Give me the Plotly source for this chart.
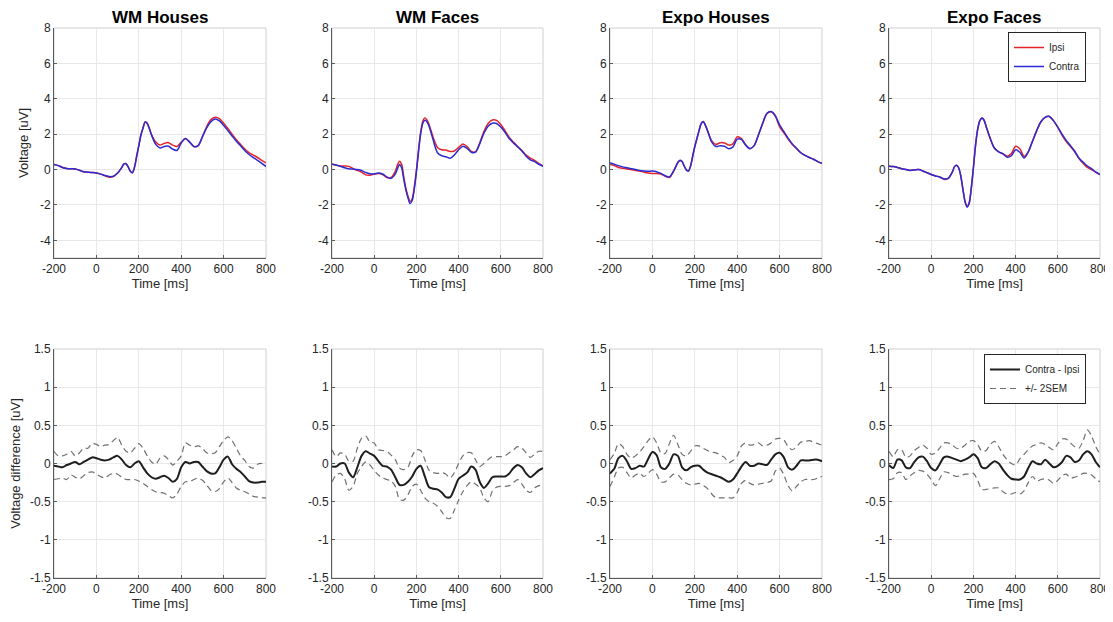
import plotly.graph_objects as go

# ---------------- data ----------------
t_top = [-200, -180, -160, -140, -120, -100, -80, -60, -40, -20, 0, 20, 40, 60, 80, 100,
         110, 120, 130, 140, 150, 160, 170, 180, 190, 200, 210, 220, 230, 240, 250, 260,
         280, 300, 320, 340, 360, 380, 400, 420, 440, 460, 480, 500, 520, 540, 560, 580,
         600, 620, 640, 660, 680, 700, 720, 740, 760, 780, 800]

t_diff = [-200, -180, -160, -140, -120, -100, -80, -60, -40, -20,
          0, 20, 40, 60, 80, 100, 120, 140, 160, 180,
          200, 220, 240, 260, 280, 300, 320, 340, 360, 380,
          400, 420, 440, 460, 480, 500, 520, 540, 560, 580,
          600, 620, 640, 660, 680, 700, 720, 740, 760, 780, 800]

panel_titles = ["WM Houses", "WM Faces", "Expo Houses", "Expo Faces"]

# WM Houses
wm_houses_contra = [0.28, 0.22, 0.12, 0.06, 0.04, 0.03, -0.04, -0.13, -0.15, -0.17, -0.20, -0.26, -0.33, -0.40, -0.38, -0.20,
                    -0.05, 0.12, 0.32, 0.33, 0.15, -0.10, -0.18, 0.15, 0.75, 1.35, 1.95, 2.35, 2.68, 2.60, 2.30, 1.95,
                    1.42, 1.22, 1.30, 1.32, 1.15, 1.08, 1.50, 1.75, 1.55, 1.30, 1.35, 1.85, 2.35, 2.70, 2.85, 2.75,
                    2.50, 2.20, 1.90, 1.60, 1.35, 1.08, 0.85, 0.68, 0.52, 0.35, 0.17]
wm_houses_ipsi = [0.28, 0.22, 0.12, 0.06, 0.04, 0.03, -0.04, -0.13, -0.15, -0.17, -0.20, -0.26, -0.36, -0.43, -0.40, -0.20,
                  -0.05, 0.12, 0.32, 0.33, 0.15, -0.10, -0.18, 0.15, 0.75, 1.35, 1.95, 2.35, 2.70, 2.62, 2.32, 1.98,
                  1.55, 1.38, 1.48, 1.52, 1.38, 1.30, 1.55, 1.75, 1.55, 1.30, 1.35, 1.85, 2.42, 2.82, 2.96, 2.88,
                  2.62, 2.32, 2.00, 1.68, 1.42, 1.16, 0.96, 0.82, 0.68, 0.52, 0.38]

# WM Faces
wm_faces_contra = [0.32, 0.26, 0.18, 0.10, 0.04, 0.02, 0.00, -0.05, -0.17, -0.24, -0.25, -0.20, -0.25, -0.42, -0.50, -0.25,
                   0.05, 0.28, 0.10, -0.55, -1.15, -1.60, -1.92, -1.75, -1.10, -0.15, 1.00, 2.00, 2.60, 2.78, 2.70, 2.45,
                   1.65, 0.95, 0.78, 0.72, 0.64, 0.82, 1.12, 1.32, 1.20, 0.98, 0.98, 1.45, 2.05, 2.45, 2.62, 2.60,
                   2.40, 2.10, 1.75, 1.50, 1.28, 1.05, 0.75, 0.55, 0.45, 0.30, 0.18]
wm_faces_ipsi = [0.30, 0.24, 0.20, 0.20, 0.18, 0.05, -0.05, -0.15, -0.30, -0.32, -0.25, -0.22, -0.28, -0.45, -0.45, -0.10,
                 0.25, 0.47, 0.30, -0.40, -1.05, -1.50, -1.80, -1.65, -1.00, -0.05, 1.10, 2.10, 2.72, 2.92, 2.80, 2.55,
                 1.80, 1.25, 1.12, 1.10, 1.02, 1.05, 1.25, 1.45, 1.30, 1.02, 1.00, 1.50, 2.15, 2.60, 2.80, 2.78,
                 2.55, 2.20, 1.82, 1.55, 1.30, 1.08, 0.82, 0.65, 0.52, 0.35, 0.20]

# Expo Houses
expo_houses_contra = [0.38, 0.30, 0.22, 0.15, 0.10, 0.05, 0.00, -0.05, -0.08, -0.10, -0.08, -0.12, -0.22, -0.35, -0.42, -0.08,
                      0.15, 0.40, 0.52, 0.45, 0.20, -0.02, -0.08, 0.20, 0.75, 1.30, 1.75, 2.20, 2.60, 2.72, 2.50, 2.20,
                      1.55, 1.30, 1.35, 1.32, 1.18, 1.28, 1.72, 1.70, 1.38, 1.18, 1.35, 1.95, 2.60, 3.18, 3.28, 3.05,
                      2.52, 2.15, 1.78, 1.45, 1.20, 0.95, 0.80, 0.68, 0.58, 0.45, 0.35]
expo_houses_ipsi = [0.28, 0.22, 0.12, 0.07, 0.03, 0.00, -0.05, -0.08, -0.15, -0.20, -0.22, -0.22, -0.25, -0.38, -0.45, -0.10,
                    0.15, 0.40, 0.50, 0.45, 0.20, -0.02, -0.08, 0.20, 0.75, 1.30, 1.75, 2.20, 2.60, 2.72, 2.50, 2.20,
                    1.62, 1.42, 1.52, 1.50, 1.38, 1.45, 1.85, 1.75, 1.40, 1.18, 1.35, 1.95, 2.60, 3.15, 3.26, 3.00,
                    2.42, 2.08, 1.72, 1.42, 1.18, 0.95, 0.80, 0.68, 0.58, 0.45, 0.35]

# Expo Faces
expo_faces_contra = [0.19, 0.17, 0.12, 0.05, 0.00, -0.05, -0.02, 0.00, -0.08, -0.18, -0.28, -0.36, -0.42, -0.52, -0.50, -0.15,
                     0.15, 0.24, 0.10, -0.35, -1.10, -1.80, -2.12, -1.90, -1.05, 0.10, 1.35, 2.25, 2.75, 2.92, 2.80, 2.45,
                     1.75, 1.20, 1.00, 0.88, 0.70, 0.78, 1.12, 0.98, 0.65, 1.00, 1.60, 2.20, 2.70, 2.95, 3.00, 2.75,
                     2.40, 2.00, 1.65, 1.35, 1.05, 0.65, 0.42, 0.20, 0.05, -0.15, -0.28]
expo_faces_ipsi = [0.19, 0.17, 0.12, 0.05, 0.00, -0.05, -0.02, 0.00, -0.08, -0.18, -0.28, -0.36, -0.42, -0.55, -0.52, -0.15,
                   0.15, 0.24, 0.10, -0.35, -1.08, -1.78, -2.08, -1.88, -1.05, 0.10, 1.35, 2.25, 2.75, 2.92, 2.80, 2.45,
                   1.75, 1.20, 1.00, 0.90, 0.75, 0.90, 1.32, 1.18, 0.75, 1.00, 1.60, 2.20, 2.70, 2.95, 3.00, 2.75,
                   2.38, 1.95, 1.58, 1.30, 1.00, 0.62, 0.35, 0.12, 0.00, -0.15, -0.28]

# Contra - Ipsi differences with +/- 2SEM bounds
wm_houses_diff = [-0.03, -0.04, -0.05, -0.02, 0.00, 0.02, -0.01, 0.02, 0.05, 0.08,
                  0.07, 0.05, 0.04, 0.05, 0.08, 0.10, 0.05, -0.02, -0.05, 0.00,
                  0.03, -0.05, -0.13, -0.18, -0.20, -0.18, -0.16, -0.19, -0.24, -0.20,
                  -0.05, 0.02, 0.00, 0.02, 0.02, -0.04, -0.10, -0.13, -0.13, -0.05,
                  0.05, 0.09, -0.01, -0.07, -0.11, -0.17, -0.23, -0.25, -0.25, -0.24, -0.24]
wm_houses_upper = [0.16, 0.10, 0.10, 0.12, 0.16, 0.10, 0.14, 0.20, 0.20, 0.26,
                   0.25, 0.22, 0.24, 0.25, 0.30, 0.34, 0.24, 0.16, 0.14, 0.20,
                   0.26, 0.20, 0.10, 0.02, -0.01, 0.07, 0.10, 0.05, -0.02, 0.03,
                   0.10, 0.27, 0.24, 0.22, 0.23, 0.20, 0.14, 0.13, 0.14, 0.22,
                   0.30, 0.35, 0.30, 0.20, 0.10, 0.04, -0.04, -0.06, -0.01, 0.00, -0.02]
wm_houses_lower = [-0.21, -0.20, -0.19, -0.21, -0.15, -0.18, -0.20, -0.16, -0.12, -0.11,
                   -0.14, -0.17, -0.19, -0.15, -0.13, -0.14, -0.18, -0.21, -0.21, -0.21,
                   -0.23, -0.26, -0.30, -0.34, -0.37, -0.38, -0.39, -0.42, -0.45, -0.40,
                   -0.30, -0.24, -0.24, -0.21, -0.19, -0.22, -0.28, -0.35, -0.37, -0.33,
                   -0.24, -0.19, -0.25, -0.32, -0.35, -0.37, -0.40, -0.43, -0.44, -0.45, -0.45]

wm_faces_diff = [-0.04, -0.04, 0.00, 0.00, -0.12, -0.18, -0.05, 0.10, 0.16, 0.13,
                 0.10, 0.03, -0.03, -0.04, -0.08, -0.18, -0.28, -0.28, -0.24, -0.17,
                 -0.07, -0.03, -0.17, -0.31, -0.33, -0.34, -0.38, -0.44, -0.44, -0.33,
                 -0.20, -0.16, -0.12, -0.04, -0.08, -0.24, -0.32, -0.26, -0.18, -0.17,
                 -0.17, -0.17, -0.13, -0.06, -0.02, -0.05, -0.13, -0.18, -0.14, -0.09, -0.06]
wm_faces_upper = [0.18, 0.09, 0.14, 0.12, 0.03, 0.03, 0.20, 0.33, 0.36, 0.28,
                  0.27, 0.18, 0.17, 0.16, 0.11, 0.05, -0.06, -0.08, -0.05, 0.10,
                  0.18, 0.17, 0.05, -0.09, -0.12, -0.13, -0.12, -0.14, -0.19, -0.12,
                  0.00, 0.10, 0.14, 0.14, 0.05, -0.04, 0.00, 0.05, 0.09, 0.09,
                  0.09, 0.10, 0.14, 0.18, 0.22, 0.20, 0.14, 0.08, 0.12, 0.16, 0.16]
wm_faces_lower = [-0.24, -0.15, -0.13, -0.20, -0.35, -0.30, -0.13, -0.04, 0.02, -0.02,
                  -0.09, -0.15, -0.19, -0.21, -0.23, -0.30, -0.47, -0.48, -0.41, -0.30,
                  -0.27, -0.35, -0.45, -0.50, -0.52, -0.56, -0.63, -0.71, -0.72, -0.61,
                  -0.48, -0.37, -0.29, -0.24, -0.27, -0.32, -0.45, -0.50, -0.36, -0.31,
                  -0.30, -0.30, -0.29, -0.25, -0.21, -0.27, -0.35, -0.38, -0.32, -0.29, -0.28]

expo_houses_diff = [-0.13, -0.07, 0.07, 0.10, 0.03, -0.07, -0.06, -0.03, -0.04, 0.06,
                    0.15, 0.11, -0.05, -0.07, 0.00, 0.12, 0.10, -0.05, -0.09, -0.05,
                    -0.03, -0.03, -0.08, -0.12, -0.14, -0.16, -0.18, -0.21, -0.24, -0.21,
                    -0.13, -0.04, 0.02, -0.03, -0.03, 0.00, -0.01, -0.02, 0.05, 0.12,
                    0.14, 0.08, -0.05, -0.08, -0.03, 0.04, 0.04, 0.04, 0.05, 0.05, 0.03]
expo_houses_upper = [0.05, 0.13, 0.26, 0.22, 0.12, 0.07, 0.10, 0.15, 0.22, 0.30,
                     0.35, 0.27, 0.14, 0.13, 0.26, 0.37, 0.25, 0.12, 0.10, 0.16,
                     0.23, 0.23, 0.20, 0.17, 0.15, 0.14, 0.11, 0.08, 0.01, 0.04,
                     0.10, 0.23, 0.27, 0.24, 0.25, 0.27, 0.23, 0.24, 0.27, 0.32,
                     0.33, 0.31, 0.22, 0.18, 0.22, 0.28, 0.29, 0.30, 0.28, 0.26, 0.24]
expo_houses_lower = [-0.30, -0.18, -0.06, -0.05, -0.12, -0.19, -0.15, -0.13, -0.17, -0.13,
                     -0.08, -0.14, -0.24, -0.24, -0.19, -0.14, -0.15, -0.21, -0.26, -0.28,
                     -0.27, -0.26, -0.29, -0.33, -0.40, -0.45, -0.45, -0.45, -0.45, -0.45,
                     -0.38, -0.26, -0.22, -0.26, -0.28, -0.27, -0.26, -0.25, -0.23, -0.10,
                     -0.06, -0.15, -0.29, -0.36, -0.30, -0.24, -0.21, -0.21, -0.21, -0.19, -0.17]

expo_faces_diff = [-0.02, -0.06, 0.05, 0.04, -0.05, -0.06, 0.02, 0.08, 0.09, 0.03,
                   -0.06, -0.09, -0.01, 0.08, 0.09, 0.07, 0.05, 0.03, 0.05, 0.08,
                   0.12, 0.07, -0.05, -0.06, -0.01, 0.03, 0.00, -0.08, -0.15, -0.20,
                   -0.21, -0.21, -0.17, -0.06, 0.03, 0.00, -0.01, 0.05, 0.00, -0.05,
                   -0.03, 0.02, 0.10, 0.08, 0.02, 0.04, 0.12, 0.16, 0.12, 0.02, -0.05]
expo_faces_upper = [0.16, 0.09, 0.18, 0.18, 0.08, 0.10, 0.17, 0.21, 0.24, 0.20,
                    0.12, 0.14, 0.20, 0.27, 0.27, 0.24, 0.20, 0.20, 0.24, 0.29,
                    0.30, 0.25, 0.16, 0.17, 0.25, 0.29, 0.22, 0.12, 0.05, 0.00,
                    -0.02, 0.06, 0.12, 0.18, 0.23, 0.25, 0.27, 0.25, 0.21, 0.18,
                    0.26, 0.32, 0.32, 0.27, 0.22, 0.20, 0.30, 0.44, 0.36, 0.22, 0.12]
expo_faces_lower = [-0.21, -0.20, -0.12, -0.12, -0.21, -0.16, -0.12, -0.09, -0.10, -0.14,
                    -0.21, -0.29, -0.20, -0.11, -0.12, -0.15, -0.17, -0.16, -0.14, -0.14,
                    -0.13, -0.22, -0.34, -0.34, -0.33, -0.32, -0.32, -0.37, -0.40, -0.40,
                    -0.38, -0.40, -0.36, -0.25, -0.17, -0.23, -0.21, -0.20, -0.22, -0.26,
                    -0.22, -0.16, -0.14, -0.19, -0.18, -0.16, -0.13, -0.13, -0.15, -0.20, -0.24]

x_tick_vals = [-200, 0, 200, 400, 600, 800]
x_tick_text = ["-200", "0", "200", "400", "600", "800"]
y_top_tick_vals = [-4, -2, 0, 2, 4, 6, 8]
y_top_tick_text = ["-4", "-2", "0", "2", "4", "6", "8"]
y_bot_tick_vals = [-1.5, -1, -0.5, 0, 0.5, 1, 1.5]
y_bot_tick_text = ["-1.5", "-1", "-0.5", "0", "0.5", "1", "1.5"]

# ---------------- figure ----------------
# the page body has an 8px default margin, so the figure is sized to the
# visible area and all pixel positions below are shifted by that offset
OFF = 8
W, H = 1113 - OFF, 622 - OFF
FONT = "Liberation Sans, Arial, Helvetica, sans-serif"
TXT = "#262626"
RED = "#e3242b"
BLUE = "#2b2bd4"

ipsi_list = [wm_houses_ipsi, wm_faces_ipsi, expo_houses_ipsi, expo_faces_ipsi]
contra_list = [wm_houses_contra, wm_faces_contra, expo_houses_contra, expo_faces_contra]
diff_list = [wm_houses_diff, wm_faces_diff, expo_houses_diff, expo_faces_diff]
upper_list = [wm_houses_upper, wm_faces_upper, expo_houses_upper, expo_faces_upper]
lower_list = [wm_houses_lower, wm_faces_lower, expo_houses_lower, expo_faces_lower]

col_px = [(54, 266), (332, 543), (610, 822), (889, 1100)]
top_px = (28, 258)
bot_px = (349, 578)


def fx(px):
    return (px - OFF) / W


def fy(py):
    return 1 - (py - OFF) / H


fig = go.Figure()
layout = dict(
    width=W, height=H, margin=dict(l=0, r=0, t=0, b=0, pad=0, autoexpand=False),
    paper_bgcolor="white", plot_bgcolor="white",
    font=dict(family=FONT, size=12, color=TXT),
    showlegend=True,
)

annotations = []
shapes = []


def axis_common():
    return dict(
        showgrid=True, gridcolor="#e8e8e8", gridwidth=1, zeroline=False,
        showline=True, linecolor="#5a5a5a", linewidth=1,
        ticks="inside", ticklen=3, tickcolor="#5a5a5a", automargin=False,
        tickfont=dict(family=FONT, size=12, color=TXT),
    )


for i in range(4):
    for row in range(2):
        n = i + 1 + 4 * row
        xa = f"xaxis{n}" if n > 1 else "xaxis"
        ya = f"yaxis{n}" if n > 1 else "yaxis"
        xr = f"x{n}" if n > 1 else "x"
        yr = f"y{n}" if n > 1 else "y"
        x0, x1 = col_px[i]
        y0, y1 = top_px if row == 0 else bot_px
        xd = dict(axis_common(), domain=[fx(x0), fx(x1)], anchor=yr, range=[-200, 800],
                  tickvals=x_tick_vals, ticktext=x_tick_text,
                  title=dict(text="Time [ms]", font=dict(size=13, color=TXT), standoff=2))
        if row == 0:
            yd = dict(axis_common(), domain=[fy(y1), fy(y0)], anchor=xr, range=[-5, 8],
                      tickvals=y_top_tick_vals, ticktext=y_top_tick_text)
            if i == 0:
                yd["title"] = dict(text="Voltage [uV]", font=dict(size=13, color=TXT), standoff=8)
        else:
            yd = dict(axis_common(), domain=[fy(y1), fy(y0)], anchor=xr, range=[-1.5, 1.5],
                      tickvals=y_bot_tick_vals, ticktext=y_bot_tick_text)
            if i == 0:
                yd["title"] = dict(text="Voltage difference [uV]", font=dict(size=13, color=TXT), standoff=6)
        layout[xa] = xd
        layout[ya] = yd
        # light box edges (top / right)
        shapes.append(dict(type="rect", xref=f"{xr} domain", yref=f"{yr} domain",
                           x0=0, x1=1, y0=0, y1=1, line=dict(color="#cfcfcf", width=1),
                           layer="below"))

        if row == 0:
            fig.add_trace(go.Scatter(x=t_top, y=ipsi_list[i], mode="lines", name="Ipsi",
                                     line=dict(color=RED, width=1.5, shape="spline", smoothing=0.8),
                                     xaxis=xr, yaxis=yr, showlegend=(i == 3), legend="legend"))
            fig.add_trace(go.Scatter(x=t_top, y=contra_list[i], mode="lines", name="Contra",
                                     line=dict(color=BLUE, width=1.5, shape="spline", smoothing=0.8),
                                     xaxis=xr, yaxis=yr, showlegend=(i == 3), legend="legend"))
            annotations.append(dict(text=f"<b>{panel_titles[i]}</b>", xref=f"{xr} domain",
                                    yref=f"{yr} domain", x=0.5, y=1, yanchor="bottom",
                                    xanchor="center", yshift=0, borderpad=0, showarrow=False,
                                    font=dict(family=FONT, size=17, color="#000000")))
        else:
            fig.add_trace(go.Scatter(x=t_diff, y=diff_list[i], mode="lines", name="Contra - Ipsi",
                                     line=dict(color="#1e1e1e", width=2, shape="spline", smoothing=0.8),
                                     xaxis=xr, yaxis=yr, showlegend=(i == 3), legend="legend2"))
            fig.add_trace(go.Scatter(x=t_diff, y=upper_list[i], mode="lines", name="+/- 2SEM",
                                     line=dict(color="#707070", width=1.2, dash="6px,4px", shape="spline", smoothing=0.8),
                                     xaxis=xr, yaxis=yr, showlegend=(i == 3), legend="legend2"))
            fig.add_trace(go.Scatter(x=t_diff, y=lower_list[i], mode="lines", name="+/- 2SEM",
                                     line=dict(color="#707070", width=1.2, dash="6px,4px", shape="spline", smoothing=0.8),
                                     xaxis=xr, yaxis=yr, showlegend=False, legend="legend2"))

legend_style = dict(xanchor="right", yanchor="middle", bgcolor="white", bordercolor="#262626",
                    borderwidth=1, font=dict(family=FONT, size=10, color=TXT),
                    tracegroupgap=0, itemwidth=30)
layout["legend"] = dict(legend_style, x=fx(1086), y=fy(57))
layout["legend2"] = dict(legend_style, x=fx(1086), y=fy(379))
layout["annotations"] = annotations
layout["shapes"] = shapes

fig.update_layout(**layout)
fig.write_html("out.html")
